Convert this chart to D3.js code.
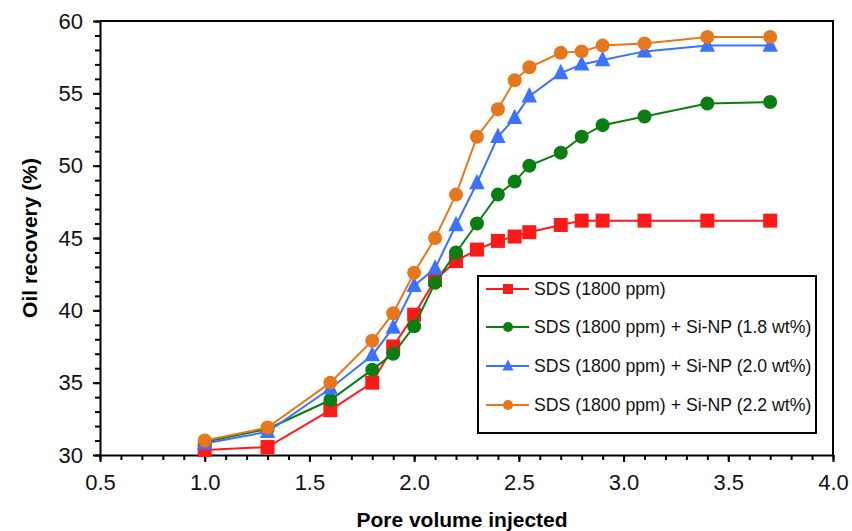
<!DOCTYPE html>
<html>
<head>
<meta charset="utf-8">
<script src="https://cdn.jsdelivr.net/npm/d3@7"></script>
<style>
  body { margin: 0; background: #fff; }
  text { font-family: "Liberation Sans", Arial, sans-serif; }
</style>
</head>
<body>
<div id="chart"></div>
<script>
// pore volume injected
var pv = [1.0, 1.3, 1.6, 1.8, 1.9, 2.0, 2.1, 2.2, 2.3, 2.4, 2.48, 2.55, 2.7, 2.8, 2.9, 3.1, 3.4, 3.7];

// oil recovery (%) per series
var sds    = [30.35, 30.55, 33.1, 35.0, 37.5, 39.7, 42.1, 43.4, 44.2, 44.8, 45.1, 45.4, 45.9, 46.2, 46.2, 46.2, 46.2, 46.2];
var np18   = [30.9, 31.8, 33.8, 35.9, 37.0, 38.9, 41.9, 44.0, 46.0, 48.0, 48.9, 50.0, 50.9, 52.0, 52.8, 53.4, 54.3, 54.4];
var np20   = [30.8, 31.6, 34.6, 36.9, 38.8, 41.7, 42.9, 45.9, 48.8, 52.0, 53.3, 54.8, 56.4, 57.0, 57.3, 57.9, 58.3, 58.3];
var np22   = [31.0, 31.9, 35.0, 37.9, 39.8, 42.6, 45.0, 48.0, 52.0, 53.9, 55.9, 56.8, 57.8, 57.9, 58.3, 58.45, 58.9, 58.9];

var seriesNames = ["SDS (1800 ppm)", "SDS (1800 ppm) + Si-NP (1.8 wt%)", "SDS (1800 ppm) + Si-NP (2.0 wt%)", "SDS (1800 ppm) + Si-NP (2.2 wt%)"];
var seriesColors = ["#ff1a1a", "#0b7d12", "#3d72ff", "#e5781c"];
var seriesShapes = ["square", "circle", "triangle", "circle"];
var seriesValues = [sds, np18, np20, np22];

var xTicks = [0.5, 1.0, 1.5, 2.0, 2.5, 3.0, 3.5, 4.0];
var yTicks = [30, 35, 40, 45, 50, 55, 60];

var w = 852, h = 531;
var pLeft = 100, pRight = 833, pTop = 21, pBottom = 455;

var svg = d3.select('#chart').append('svg')
  .attr('width', w).attr('height', h);

var x = d3.scaleLinear().domain([0.5, 4.0]).range([pLeft, pRight]);
var y = d3.scaleLinear().domain([30, 60]).range([pBottom, pTop]);

// frame (top and right)
svg.append('path')
  .attr('d', 'M' + pLeft + ',' + pTop + 'H' + pRight + 'V' + pBottom)
  .attr('fill', 'none').attr('stroke', '#000').attr('stroke-width', 2);

// minor ticks
var xMinor = d3.range(5, 41).map(function(d){ return d / 10; });
var yMinor = d3.range(30, 61);

var xMinorAxis = svg.append('g')
  .attr('transform', 'translate(0,' + pBottom + ')')
  .call(d3.axisBottom(x).tickValues(xMinor).tickSize(5).tickFormat(''));
var yMinorAxis = svg.append('g')
  .attr('transform', 'translate(' + pLeft + ',0)')
  .call(d3.axisLeft(y).tickValues(yMinor).tickSize(5).tickFormat(''));
[xMinorAxis, yMinorAxis].forEach(function(g){
  g.select('.domain').remove();
  g.selectAll('line').attr('stroke', '#000').attr('stroke-width', 2);
});

// major axes
var xAxis = svg.append('g')
  .attr('transform', 'translate(0,' + pBottom + ')')
  .call(d3.axisBottom(x).tickValues(xTicks).tickSize(7).tickSizeOuter(0).tickPadding(12).tickFormat(d3.format('.1f')));
var yAxis = svg.append('g')
  .attr('transform', 'translate(' + pLeft + ',0)')
  .call(d3.axisLeft(y).tickValues(yTicks).tickSize(7).tickSizeOuter(0).tickPadding(10).tickFormat(d3.format('d')));
[xAxis, yAxis].forEach(function(g){
  g.select('.domain').attr('stroke', '#000').attr('stroke-width', 2);
  g.selectAll('line').attr('stroke', '#000').attr('stroke-width', 2);
  g.selectAll('text').attr('font-size', 22).attr('fill', '#111')
    .attr('font-family', '"Liberation Sans", Arial, sans-serif');
});

// axis titles
svg.append('text')
  .attr('x', 462).attr('y', 527)
  .attr('text-anchor', 'middle')
  .attr('font-size', 21).attr('font-weight', 'bold')
  .text('Pore volume injected');

svg.append('text')
  .attr('transform', 'translate(37,' + ((pTop + pBottom) / 2) + ') rotate(-90)')
  .attr('text-anchor', 'middle')
  .attr('font-size', 21).attr('font-weight', 'bold')
  .text('Oil  recovery (%)');

// draw a marker
function marker(g, shape, cx, cy, size, color){
  if(shape === 'square'){
    g.append('rect').attr('x', cx - size/2).attr('y', cy - size/2)
      .attr('width', size).attr('height', size).attr('fill', color);
  } else if(shape === 'triangle'){
    var s = size * 1.1;
    g.append('path')
      .attr('d', 'M' + cx + ',' + (cy - s*0.6) + 'L' + (cx + s/2) + ',' + (cy + s*0.4) + 'L' + (cx - s/2) + ',' + (cy + s*0.4) + 'Z')
      .attr('fill', color);
  } else {
    g.append('circle').attr('cx', cx).attr('cy', cy).attr('r', size/2).attr('fill', color);
  }
}

var line = d3.line()
  .x(function(d){ return x(d[0]); })
  .y(function(d){ return y(d[1]); });

seriesValues.forEach(function(vals, i){
  var pts = pv.map(function(p, j){ return [p, vals[j]]; });
  var g = svg.append('g');
  g.append('path').datum(pts)
    .attr('d', line)
    .attr('fill', 'none')
    .attr('stroke', seriesColors[i])
    .attr('stroke-width', 2);
  pts.forEach(function(p){
    marker(g, seriesShapes[i], x(p[0]), y(p[1]), 14, seriesColors[i]);
  });
});

// legend
var lg = svg.append('g');
lg.append('rect')
  .attr('x', 478).attr('y', 276).attr('width', 338).attr('height', 157)
  .attr('fill', '#fff').attr('stroke', '#000').attr('stroke-width', 2);

var legendRows = [289, 327, 366, 405];
seriesNames.forEach(function(name, i){
  var ry = legendRows[i];
  lg.append('line')
    .attr('x1', 486).attr('x2', 529).attr('y1', ry).attr('y2', ry)
    .attr('stroke', seriesColors[i]).attr('stroke-width', 2);
  marker(lg, seriesShapes[i], 508, ry, 10, seriesColors[i]);
  lg.append('text')
    .attr('x', 534).attr('y', ry + 6)
    .attr('font-size', 17.7).attr('fill', '#111')
    .text(name);
});
</script>
</body>
</html>
